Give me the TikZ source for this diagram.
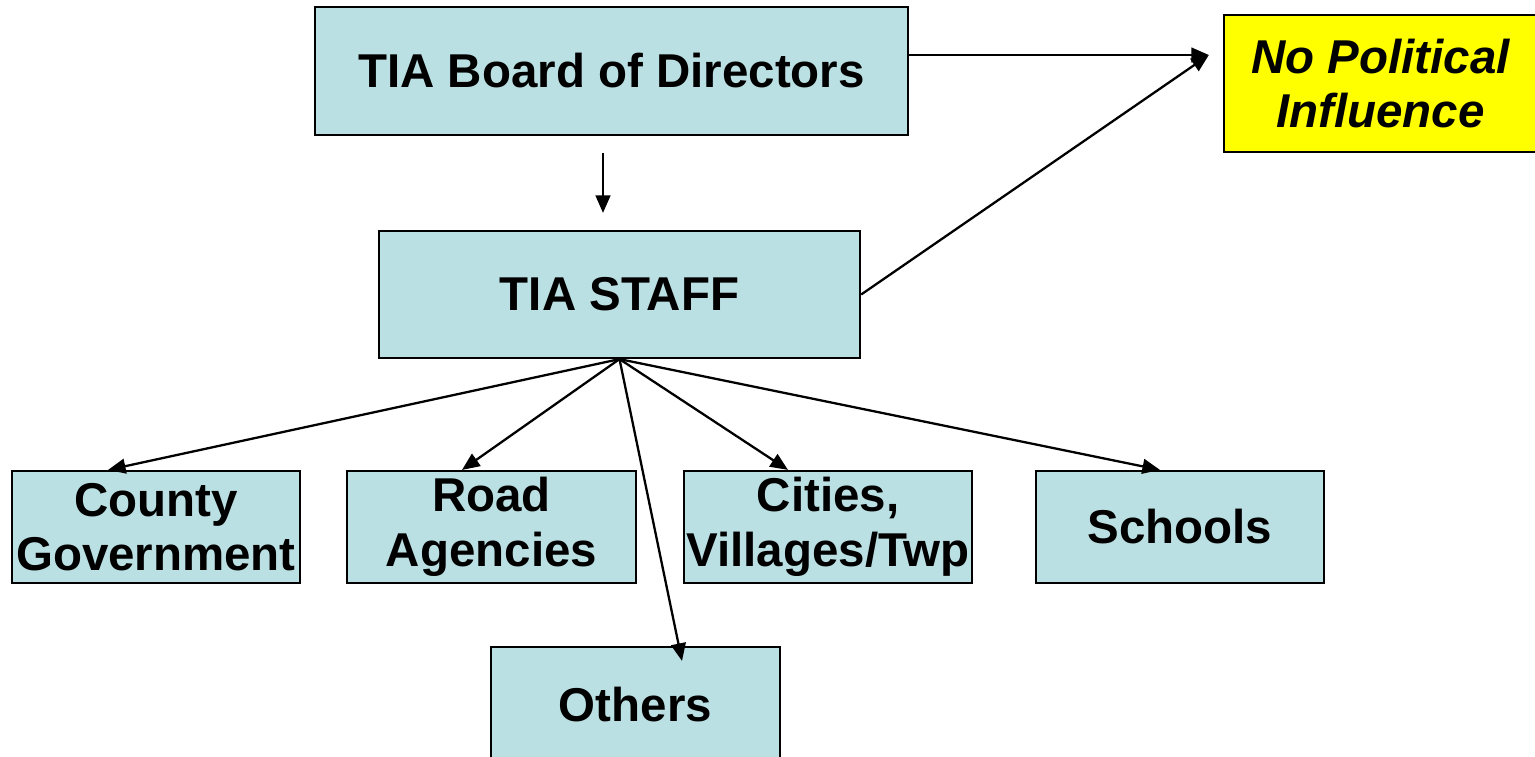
\documentclass[tikz,border=0pt]{standalone}
\usepackage{fontspec}
\setmainfont{Liberation Sans}
\usepackage{xcolor}
\usetikzlibrary{arrows.meta}

\definecolor{boxblue}{HTML}{BBE0E3}
\definecolor{noteyellow}{HTML}{FFFF00}

\begin{document}
\begin{tikzpicture}[x=0.01cm, y=0.01cm,
    box/.style={draw, line width=0.6pt, fill=boxblue, inner sep=0pt, align=center,
        font=\fontsize{13.5}{15.5}\selectfont\bfseries},
    arr/.style={-{Triangle[length=5pt,width=4.2pt]}, line width=0.65pt}]
    \useasboundingbox (0,0) rectangle (1535,756);

    \node[box, minimum width=59.3mm, minimum height=12.8mm] (board) at (611.5,685) {TIA Board of Directors};
    \node[box, minimum width=48.1mm, minimum height=12.7mm] (staff) at (619.5,461.5) {TIA STAFF};
    \node[box, fill=noteyellow, minimum width=31.3mm, minimum height=13.7mm] (npi) at (1380.5,672.5)
        {\itshape No Political\\\itshape Influence};

    \node[box, minimum width=28.8mm, minimum height=11.2mm] (county) at (156,229) {County\\Government};
    \node[box, minimum width=28.9mm, minimum height=11.2mm] (road) at (491.5,229) {Road\\Agencies};
    \node[box, minimum width=28.8mm, minimum height=11.2mm] (cities) at (828,229) {Cities,\\Villages/Twp};
    \node[box, minimum width=28.8mm, minimum height=11.2mm] (schools) at (1180,229) {Schools};
    \node[box, minimum width=28.9mm, minimum height=11.6mm] (others) at (635.5,51) {Others};

    \draw[arr] ([shift={(-8.5,-17)}]board.south) -- ([shift={(-16.5,17)}]staff.north);
    \draw[arr] ([shift={(0,16)}]board.east) -- ([shift={(-14,28.5)}]npi.west);
    \draw[arr] (staff.east) -- ([shift={(-14,28.5)}]npi.west);

    \draw[arr] (staff.south) -- ([shift={(-48,0)}]county.north);
    \draw[arr] (staff.south) -- ([shift={(-29.5,0)}]road.north);
    \draw[arr] (staff.south) -- ([shift={(46.5,-15)}]others.north);
    \draw[arr] (staff.south) -- ([shift={(-40,0)}]cities.north);
    \draw[arr] (staff.south) -- ([shift={(-20,0)}]schools.north);
\end{tikzpicture}
\end{document}
